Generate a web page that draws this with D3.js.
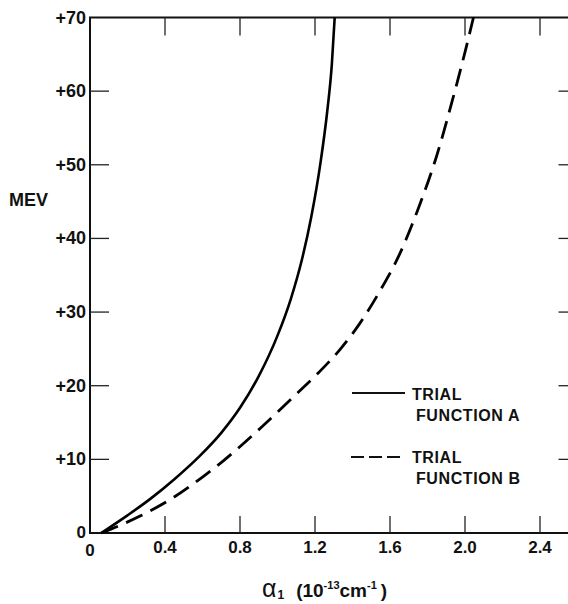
<!DOCTYPE html>
<html>
<head>
<meta charset="utf-8">
<script src="https://cdn.jsdelivr.net/npm/d3@7"></script>
<style>
  body { margin: 0; background: #fff; }
  svg { display: block; }
  text { font-family: "Liberation Sans", Arial, sans-serif; font-weight: bold; fill: #111; }
</style>
</head>
<body>
<script>
// Courbe A (trait plein) : alpha1 vs MEV
const alphaA = [0.06, 0.2, 0.32, 0.45, 0.587, 0.70, 0.80, 0.90, 1.00, 1.07, 1.13, 1.18, 1.23, 1.265, 1.29, 1.305]
const mevA   = [0, 2.4, 4.6, 7.3, 10.5, 13.6, 17.0, 21.3, 26.8, 31.7, 37.1, 42.9, 50.4, 57.2, 63.7, 70]

// Courbe B (tirets)
const alphaB = [0.06, 0.267, 0.444, 0.6, 0.711, 0.907, 1.102, 1.22, 1.333, 1.44, 1.547, 1.65, 1.75, 1.85, 1.93, 2.0, 2.045]
const mevB   = [0, 2.3, 4.8, 7.6, 9.8, 14.2, 18.9, 21.8, 24.9, 28.5, 32.9, 37.8, 44.0, 51.3, 58.5, 65.3, 70]

// Ticks
const xTicks = [0.4, 0.8, 1.2, 1.6, 2.0, 2.4]
const xTickLabels = ["0.4", "0.8", "1.2", "1.6", "2.0", "2.4"]
const yTicks = [10, 20, 30, 40, 50, 60, 70]
const yTickLabels = ["+10", "+20", "+30", "+40", "+50", "+60", "+70"]

const legendLabels = [["TRIAL", "FUNCTION A"], ["TRIAL", "FUNCTION B"]]

const W = 568, H = 604

const svg = d3.select("body").append("svg")
    .attr("width", W)
    .attr("height", H)

// Échelles
const x = d3.scaleLinear().domain([0, 2.6]).range([90, 577.5])
const y = d3.scaleLinear().domain([0, 70]).range([533, 17.5])

/* ---------------- cadre ---------------- */
svg.append("rect")
    .attr("x", x(0)).attr("y", y(70))
    .attr("width", x(2.6) - x(0)).attr("height", y(0) - y(70))
    .attr("fill", "none").attr("stroke", "#111").attr("stroke-width", 2)

// Ticks intérieurs
const tickG = svg.append("g").attr("stroke", "#222").attr("stroke-width", 1.3)
xTicks.forEach(t => {
    tickG.append("line").attr("x1", x(t)).attr("x2", x(t)).attr("y1", y(0)).attr("y2", y(0) - 17)
    tickG.append("line").attr("x1", x(t)).attr("x2", x(t)).attr("y1", y(70)).attr("y2", y(70) + 18)
})
yTicks.filter(t => t < 70).forEach(t => {
    tickG.append("line").attr("x1", x(0)).attr("x2", x(0) + 19).attr("y1", y(t)).attr("y2", y(t))
    tickG.append("line").attr("x1", x(2.6)).attr("x2", x(2.6) - 19).attr("y1", y(t)).attr("y2", y(t))
})

// Labels des ticks
svg.selectAll(".xlab").data(xTicks).join("text")
    .attr("class", "xlab")
    .attr("x", d => x(d)).attr("y", y(0) + 20)
    .attr("text-anchor", "middle")
    .attr("font-size", 17)
    .text((d, i) => xTickLabels[i])

svg.selectAll(".ylab").data(yTicks).join("text")
    .attr("class", "ylab")
    .attr("x", x(0) - 4).attr("y", d => y(d) + 6)
    .attr("text-anchor", "end")
    .attr("font-size", 18)
    .text((d, i) => yTickLabels[i])

// les deux zéros
svg.append("text").attr("x", x(0) - 4).attr("y", y(0) + 5)
    .attr("text-anchor", "end").attr("font-size", 17).text("0")
svg.append("text").attr("x", x(0)).attr("y", y(0) + 23)
    .attr("text-anchor", "middle").attr("font-size", 17).text("0")

// Titres des axes
svg.append("text").attr("x", 9).attr("y", 206)
    .attr("font-size", 18).text("MEV")

const xt = svg.append("text").attr("x", 262).attr("y", 597).attr("font-size", 19)
xt.append("tspan").attr("font-size", 25).attr("font-weight", "normal").text("α")
xt.append("tspan").attr("font-size", 12).attr("dy", 2).attr("dx", 1).text("1")
xt.append("tspan").attr("dy", -2).attr("dx", 12).text("(10")
xt.append("tspan").attr("font-size", 11).attr("dy", -8).text("-13")
xt.append("tspan").attr("dy", 8).text("cm")
xt.append("tspan").attr("font-size", 11).attr("dy", -8).text("-1")
xt.append("tspan").attr("dy", 8).attr("dx", 4).text(")")

/* ---------------- courbes ---------------- */
const line = d3.line()
    .x(d => x(d[0]))
    .y(d => y(d[1]))
    .curve(d3.curveMonotoneX)

const dataA = alphaA.map((a, i) => [a, mevA[i]])
const dataB = alphaB.map((a, i) => [a, mevB[i]])

svg.append("path").datum(dataA)
    .attr("d", line)
    .attr("fill", "none").attr("stroke", "#000").attr("stroke-width", 2.6)

svg.append("path").datum(dataB)
    .attr("d", line)
    .attr("fill", "none").attr("stroke", "#000").attr("stroke-width", 2.8)
    .attr("stroke-dasharray", "18,9")

/* ---------------- légende ---------------- */
svg.append("line").attr("x1", 352).attr("x2", 405).attr("y1", 393).attr("y2", 393)
    .attr("stroke", "#111").attr("stroke-width", 1.8)
svg.append("line").attr("x1", 351).attr("x2", 402).attr("y1", 457).attr("y2", 457)
    .attr("stroke", "#111").attr("stroke-width", 1.8).attr("stroke-dasharray", "13,5")

legendLabels.forEach((lbl, i) => {
    const base = i === 0 ? 400 : 463
    lbl.forEach((s, j) => {
        svg.append("text")
            .attr("x", 412).attr("y", base + j * 21)
            .attr("dx", j === 0 ? 0 : 4)
            .attr("font-size", 16)
            .attr("letter-spacing", 0.6)
            .text(s)
    })
})
</script>
</body>
</html>
